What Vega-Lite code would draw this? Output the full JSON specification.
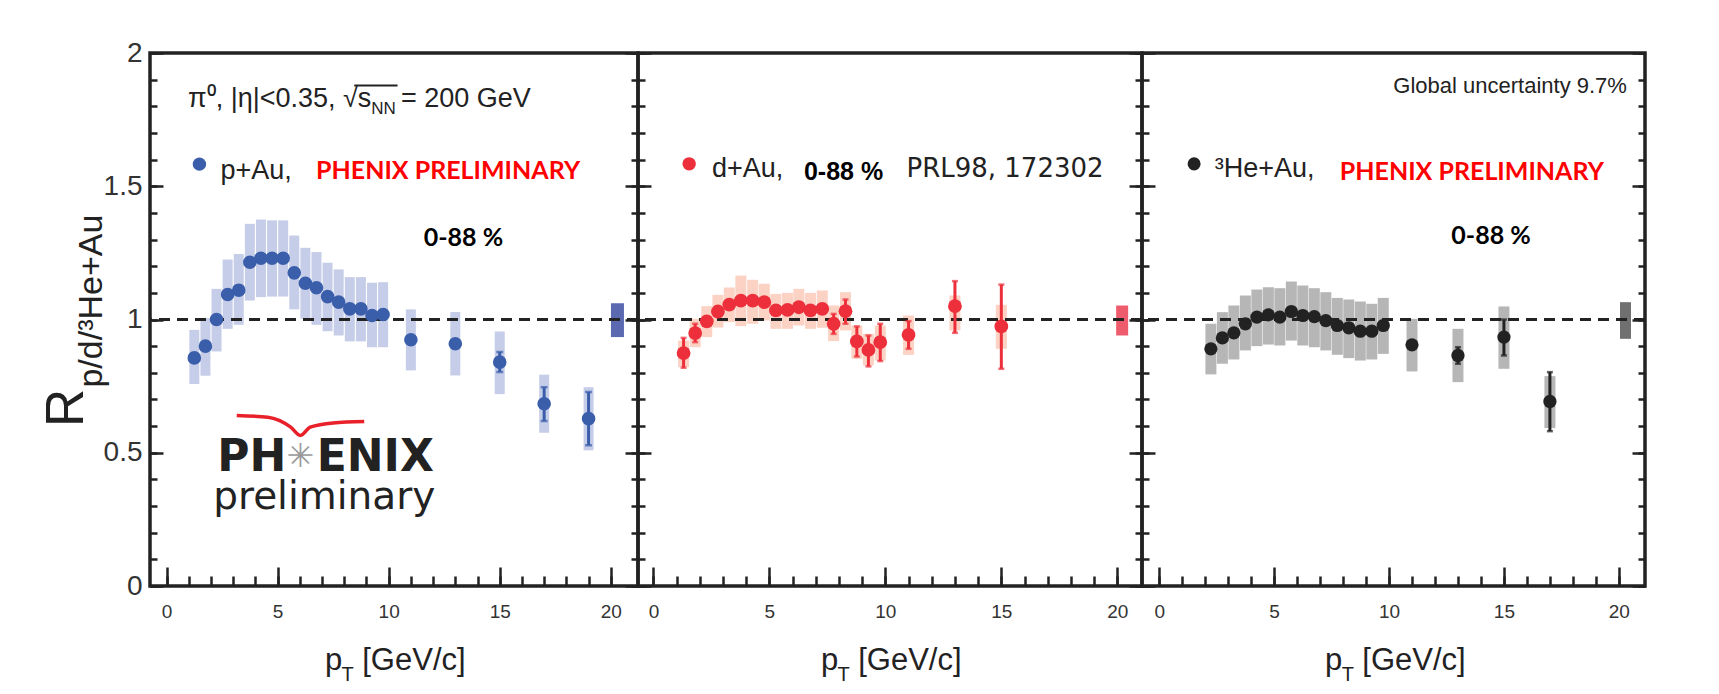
{
"$schema": "https://vega.github.io/schema/vega-lite/v6.json",
"background": "white",
"padding": {"left": 39, "top": 37, "right": 5, "bottom": 0},
"spacing": 0,
"bounds": "flush",
"config": {
  "view": {"stroke": "#222222", "strokeWidth": 3.5},
  "axis": {"domain": false, "grid": false, "tickColor": "#222222", "tickWidth": 2.5, "labelFont": "Liberation Sans", "labelColor": "#333333", "labelFlush": false},
  "text": {"font": "Liberation Sans"}
},
"datasets": {
  "one": [{"k": 1}],
  "pAu": [
    {"pt":1.25,"r":0.856,"sysLo":0.758,"sysHi":0.961},
    {"pt":1.75,"r":0.90,"sysLo":0.789,"sysHi":1.005},
    {"pt":2.25,"r":1.0,"sysLo":0.88,"sysHi":1.115},
    {"pt":2.75,"r":1.094,"sysLo":0.965,"sysHi":1.225},
    {"pt":3.25,"r":1.11,"sysLo":0.98,"sysHi":1.246},
    {"pt":3.75,"r":1.215,"sysLo":1.071,"sysHi":1.359},
    {"pt":4.25,"r":1.23,"sysLo":1.084,"sysHi":1.375},
    {"pt":4.75,"r":1.23,"sysLo":1.086,"sysHi":1.372},
    {"pt":5.25,"r":1.23,"sysLo":1.086,"sysHi":1.372},
    {"pt":5.75,"r":1.175,"sysLo":1.038,"sysHi":1.315},
    {"pt":6.25,"r":1.136,"sysLo":1.003,"sysHi":1.269},
    {"pt":6.75,"r":1.119,"sysLo":0.98,"sysHi":1.253},
    {"pt":7.25,"r":1.086,"sysLo":0.956,"sysHi":1.213},
    {"pt":7.75,"r":1.065,"sysLo":0.94,"sysHi":1.188},
    {"pt":8.25,"r":1.04,"sysLo":0.918,"sysHi":1.159},
    {"pt":8.75,"r":1.04,"sysLo":0.918,"sysHi":1.159},
    {"pt":9.25,"r":1.015,"sysLo":0.896,"sysHi":1.138},
    {"pt":9.75,"r":1.019,"sysLo":0.896,"sysHi":1.14},
    {"pt":11,"r":0.924,"sysLo":0.809,"sysHi":1.038},
    {"pt":13,"r":0.909,"sysLo":0.79,"sysHi":1.028},
    {"pt":15,"r":0.84,"sysLo":0.72,"sysHi":0.955,"statLo":0.803,"statHi":0.878},
    {"pt":17,"r":0.684,"sysLo":0.575,"sysHi":0.793,"statLo":0.619,"statHi":0.746},
    {"pt":19,"r":0.628,"sysLo":0.509,"sysHi":0.746,"statLo":0.528,"statHi":0.728}
  ],
  "dAu": [
    {"pt":1.3,"r":0.874,"sysLo":0.821,"sysHi":0.921,"statLo":0.819,"statHi":0.931},
    {"pt":1.8,"r":0.949,"sysLo":0.896,"sysHi":1.0025,"statLo":0.915,"statHi":0.984},
    {"pt":2.3,"r":0.993,"sysLo":0.934,"sysHi":1.05},
    {"pt":2.78,"r":1.03,"sysLo":0.97,"sysHi":1.0925},
    {"pt":3.27,"r":1.056,"sysLo":0.99,"sysHi":1.12},
    {"pt":3.77,"r":1.071,"sysLo":0.975,"sysHi":1.165},
    {"pt":4.28,"r":1.071,"sysLo":0.984,"sysHi":1.149},
    {"pt":4.78,"r":1.065,"sysLo":0.996,"sysHi":1.134},
    {"pt":5.28,"r":1.034,"sysLo":0.965,"sysHi":1.096},
    {"pt":5.78,"r":1.036,"sysLo":0.965,"sysHi":1.1},
    {"pt":6.27,"r":1.046,"sysLo":0.9775,"sysHi":1.115},
    {"pt":6.77,"r":1.034,"sysLo":0.965,"sysHi":1.1},
    {"pt":7.28,"r":1.04,"sysLo":0.969,"sysHi":1.109},
    {"pt":7.77,"r":0.984,"sysLo":0.919,"sysHi":1.0525,"statLo":0.946,"statHi":1.021},
    {"pt":8.28,"r":1.031,"sysLo":0.959,"sysHi":1.1025,"statLo":0.984,"statHi":1.075},
    {"pt":8.77,"r":0.9175,"sysLo":0.8525,"sysHi":0.9775,"statLo":0.861,"statHi":0.974},
    {"pt":9.27,"r":0.886,"sysLo":0.8275,"sysHi":0.946,"statLo":0.824,"statHi":0.94},
    {"pt":9.78,"r":0.915,"sysLo":0.846,"sysHi":0.9775,"statLo":0.844,"statHi":0.984},
    {"pt":11,"r":0.9425,"sysLo":0.8675,"sysHi":1.015,"statLo":0.89,"statHi":0.994},
    {"pt":13,"r":1.05,"sysLo":0.959,"sysHi":1.09,"statLo":0.95,"statHi":1.144},
    {"pt":15,"r":0.974,"sysLo":0.89,"sysHi":1.055,"statLo":0.815,"statHi":1.131}
  ],
  "HeAu": [
    {"pt":2.25,"r":0.89,"sysLo":0.794,"sysHi":0.984},
    {"pt":2.75,"r":0.931,"sysLo":0.834,"sysHi":1.0275},
    {"pt":3.25,"r":0.95,"sysLo":0.85,"sysHi":1.0525},
    {"pt":3.75,"r":0.984,"sysLo":0.884,"sysHi":1.09},
    {"pt":4.25,"r":1.009,"sysLo":0.9,"sysHi":1.1125},
    {"pt":4.75,"r":1.0175,"sysLo":0.906,"sysHi":1.121},
    {"pt":5.25,"r":1.009,"sysLo":0.9025,"sysHi":1.1175},
    {"pt":5.75,"r":1.03,"sysLo":0.921,"sysHi":1.1425},
    {"pt":6.25,"r":1.015,"sysLo":0.9025,"sysHi":1.1275},
    {"pt":6.75,"r":1.011,"sysLo":0.896,"sysHi":1.1175},
    {"pt":7.25,"r":0.996,"sysLo":0.884,"sysHi":1.1025},
    {"pt":7.75,"r":0.9775,"sysLo":0.8675,"sysHi":1.081},
    {"pt":8.25,"r":0.969,"sysLo":0.855,"sysHi":1.075},
    {"pt":8.75,"r":0.956,"sysLo":0.846,"sysHi":1.0675},
    {"pt":9.25,"r":0.956,"sysLo":0.85,"sysHi":1.059},
    {"pt":9.75,"r":0.9775,"sysLo":0.871,"sysHi":1.081},
    {"pt":11,"r":0.905,"sysLo":0.805,"sysHi":1.0025},
    {"pt":13,"r":0.865,"sysLo":0.765,"sysHi":0.965,"statLo":0.834,"statHi":0.896},
    {"pt":15,"r":0.934,"sysLo":0.815,"sysHi":1.049,"statLo":0.865,"statHi":1.0},
    {"pt":17,"r":0.6925,"sysLo":0.5925,"sysHi":0.7875,"statLo":0.581,"statHi":0.8025}
  ],
  "global": [
    {"panel":"p","pt":20.3,"lo":0.934,"hi":1.061},
    {"panel":"d","pt":20.21,"lo":0.94,"hi":1.0525},
    {"panel":"He","pt":20.29,"lo":0.9275,"hi":1.065}
  ],
  "logo": [
    {"pt":3.16,"r":0.640},{"pt":4.56,"r":0.633},{"pt":5.59,"r":0.596},{"pt":6.03,"r":0.565},{"pt":6.47,"r":0.596},{"pt":7.5,"r":0.612},{"pt":8.9,"r":0.617}
  ]
},
"hconcat": [
{
  "width": 488, "height": 533,
  "resolve": {"axis": {"x": "independent", "y": "independent"}},
  "layer": [
    {"data": {"name": "pAu"}, "mark": {"type": "bar", "width": 10, "color": "#c6cde8"},
     "encoding": {
       "x": {"field": "pt", "type": "quantitative", "scale": {"domain": [-0.52, 21.0], "nice": false, "zero": false}, "axis": {"orient": "bottom", "values": [0,1,2,3,4,5,6,7,8,9,10,11,12,13,14,15,16,17,18,19,20], "tickSize": 10, "offset": -10, "labels": false, "title": null}},
       "y": {"field": "sysLo", "type": "quantitative", "scale": {"domain": [0, 2], "nice": false, "zero": false}, "axis": {"orient": "left", "values": [0,0.1,0.2,0.3,0.4,0.5,0.6,0.7,0.8,0.9,1,1.1,1.2,1.3,1.4,1.5,1.6,1.7,1.8,1.9,2], "tickSize": 7, "offset": -7, "labels": false, "title": null}},
       "y2": {"field": "sysHi"}}},
    {"data": {"name": "global"}, "transform": [{"filter": "datum.panel === 'p'"}], "mark": {"type": "bar", "width": 13, "color": "#5b69b1"},
     "encoding": {
       "x": {"field": "pt", "type": "quantitative", "scale": {"domain": [-0.52, 21.0], "nice": false, "zero": false}, "axis": {"orient": "bottom", "values": [0,5,10,15,20], "tickSize": 19, "offset": -19, "labels": false, "title": null}},
       "y": {"field": "lo", "type": "quantitative", "scale": {"domain": [0, 2], "nice": false, "zero": false}, "axis": {"orient": "left", "values": [0,0.5,1,1.5,2], "tickSize": 13, "offset": -13, "labels": false, "title": null}},
       "y2": {"field": "hi"}}},
    {"data": {"name": "one"}, "mark": {"type": "rule", "strokeDash": [11, 7], "strokeWidth": 3, "color": "#222222"},
     "encoding": {
       "y": {"datum": 1, "type": "quantitative", "scale": {"domain": [0, 2], "nice": false, "zero": false}, "axis": {"orient": "left", "values": [0,0.5,1,1.5,2], "ticks": false, "labelPadding": 8, "labelFontSize": 28, "labelExpr": "toString(datum.value)", "title": null}}}},
    {"data": {"name": "pAu"}, "transform": [{"filter": "isValid(datum.statLo)"}], "mark": {"type": "rule", "strokeWidth": 3, "color": "#3b5eab"},
     "encoding": {
       "x": {"field": "pt", "type": "quantitative", "scale": {"domain": [-0.52, 21.0], "nice": false, "zero": false}, "axis": {"orient": "bottom", "values": [0,5,10,15,20], "ticks": false, "labelPadding": 16, "labelFontSize": 19, "title": null}},
       "y": {"field": "statLo", "type": "quantitative", "scale": {"domain": [0, 2], "nice": false, "zero": false}, "axis": {"orient": "right", "values": [0,0.1,0.2,0.3,0.4,0.5,0.6,0.7,0.8,0.9,1,1.1,1.2,1.3,1.4,1.5,1.6,1.7,1.8,1.9,2], "tickSize": 7, "offset": -7, "labels": false, "title": null}},
       "y2": {"field": "statHi"}}},
    {"data": {"name": "pAu"}, "transform": [{"filter": "isValid(datum.statLo)"}], "mark": {"type": "tick", "orient": "horizontal", "size": 7, "thickness": 2.5, "color": "#3b5eab"},
     "encoding": {
       "x": {"field": "pt", "type": "quantitative", "scale": {"domain": [-0.52, 21.0], "nice": false, "zero": false}, "axis": null},
       "y": {"field": "statLo", "type": "quantitative", "scale": {"domain": [0, 2], "nice": false, "zero": false}, "axis": {"orient": "right", "values": [0,0.5,1,1.5,2], "tickSize": 13, "offset": -13, "labels": false, "title": null}}}},
    {"data": {"name": "pAu"}, "transform": [{"filter": "isValid(datum.statLo)"}], "mark": {"type": "tick", "orient": "horizontal", "size": 7, "thickness": 2.5, "color": "#3b5eab"},
     "encoding": {
       "x": {"field": "pt", "type": "quantitative", "scale": {"domain": [-0.52, 21.0], "nice": false, "zero": false}, "axis": null},
       "y": {"field": "statHi", "type": "quantitative", "scale": {"domain": [0, 2], "nice": false, "zero": false}, "axis": null}}},
    {"data": {"name": "pAu"}, "mark": {"type": "point", "filled": true, "size": 185, "opacity": 1, "color": "#3b5eab"},
     "encoding": {
       "x": {"field": "pt", "type": "quantitative", "scale": {"domain": [-0.52, 21.0], "nice": false, "zero": false}, "axis": null},
       "y": {"field": "r", "type": "quantitative", "scale": {"domain": [0, 2], "nice": false, "zero": false}, "axis": null}}},
    {"data": {"name": "logo"}, "mark": {"type": "line", "interpolate": "monotone", "strokeWidth": 3.5, "color": "#e8202a"},
     "encoding": {
       "x": {"field": "pt", "type": "quantitative", "axis": null},
       "y": {"field": "r", "type": "quantitative", "axis": null}}},
    {"data": {"name": "one"}, "mark": {"type": "point", "filled": true, "size": 180, "opacity": 1, "color": "#3b5eab"},
     "encoding": {"x": {"datum": 1.48, "type": "quantitative", "axis": null}, "y": {"datum": 1.583, "type": "quantitative", "axis": null}}},
    {"data": {"name": "one"}, "mark": {"type": "text", "text": "π⁰, |η|<0.35,", "align": "left", "baseline": "alphabetic", "fontSize": 27, "color": "#222222"},
     "encoding": {"x": {"datum": 0.97, "type": "quantitative", "axis": null}, "y": {"datum": 1.796, "type": "quantitative", "axis": null}}},
    {"data": {"name": "one"}, "mark": {"type": "text", "text": "√s", "align": "left", "baseline": "alphabetic", "fontSize": 27, "color": "#222222"},
     "encoding": {"x": {"datum": 7.94, "type": "quantitative", "axis": null}, "y": {"datum": 1.796, "type": "quantitative", "axis": null}}},
    {"data": {"name": "one"}, "mark": {"type": "text", "text": "NN", "align": "left", "baseline": "alphabetic", "fontSize": 17, "color": "#222222"},
     "encoding": {"x": {"datum": 9.22, "type": "quantitative", "axis": null}, "y": {"datum": 1.771, "type": "quantitative", "axis": null}}},
    {"data": {"name": "one"}, "mark": {"type": "rule", "strokeWidth": 2, "color": "#222222"},
     "encoding": {"x": {"datum": 8.45, "type": "quantitative", "axis": null}, "x2": {"datum": 10.4}, "y": {"datum": 1.878, "type": "quantitative", "axis": null}}},
    {"data": {"name": "one"}, "mark": {"type": "text", "text": "= 200 GeV", "align": "left", "baseline": "alphabetic", "fontSize": 27, "color": "#222222"},
     "encoding": {"x": {"datum": 10.55, "type": "quantitative", "axis": null}, "y": {"datum": 1.796, "type": "quantitative", "axis": null}}},
    {"data": {"name": "one"}, "mark": {"type": "text", "text": "p+Au,", "align": "left", "baseline": "alphabetic", "fontSize": 27, "color": "#222222"},
     "encoding": {"x": {"datum": 2.43, "type": "quantitative", "axis": null}, "y": {"datum": 1.527, "type": "quantitative", "axis": null}}},
    {"data": {"name": "one"}, "mark": {"type": "text", "text": "PHENIX PRELIMINARY", "align": "left", "baseline": "alphabetic", "font": "Lato", "fontWeight": "bold", "fontSize": 25, "color": "#ff0000"},
     "encoding": {"x": {"datum": 6.73, "type": "quantitative", "axis": null}, "y": {"datum": 1.527, "type": "quantitative", "axis": null}}},
    {"data": {"name": "one"}, "mark": {"type": "text", "text": "0-88 %", "align": "left", "baseline": "alphabetic", "font": "Lato", "fontWeight": "bold", "fontSize": 25, "color": "#000000"},
     "encoding": {"x": {"datum": 11.58, "type": "quantitative", "axis": null}, "y": {"datum": 1.274, "type": "quantitative", "axis": null}}},
    {"data": {"name": "one"}, "mark": {"type": "text", "text": "PH", "align": "left", "baseline": "alphabetic", "font": "DejaVu Sans", "fontWeight": "bold", "fontSize": 44, "color": "#222222"},
     "encoding": {"x": {"datum": 2.28, "type": "quantitative", "axis": null}, "y": {"datum": 0.431, "type": "quantitative", "axis": null}}},
    {"data": {"name": "one"}, "mark": {"type": "text", "text": "✳", "align": "center", "baseline": "middle", "font": "DejaVu Sans", "fontSize": 33, "color": "#9a9a9a"},
     "encoding": {"x": {"datum": 6.02, "type": "quantitative", "axis": null}, "y": {"datum": 0.485, "type": "quantitative", "axis": null}}},
    {"data": {"name": "one"}, "mark": {"type": "text", "text": "ENIX", "align": "left", "baseline": "alphabetic", "font": "DejaVu Sans", "fontWeight": "bold", "fontSize": 44, "color": "#222222"},
     "encoding": {"x": {"datum": 6.76, "type": "quantitative", "axis": null}, "y": {"datum": 0.431, "type": "quantitative", "axis": null}}},
    {"data": {"name": "one"}, "mark": {"type": "text", "text": "preliminary", "align": "left", "baseline": "alphabetic", "font": "DejaVu Sans", "fontSize": 39, "color": "#222222"},
     "encoding": {"x": {"datum": 2.1, "type": "quantitative", "axis": null}, "y": {"datum": 0.29, "type": "quantitative", "axis": null}}},
    {"data": {"name": "one"}, "mark": {"type": "text", "text": "R", "angle": 270, "align": "center", "baseline": "alphabetic", "fontSize": 53, "color": "#222222"},
     "encoding": {"x": {"datum": -3.76, "type": "quantitative", "axis": null}, "y": {"datum": 0.668, "type": "quantitative", "axis": null}}},
    {"data": {"name": "one"}, "mark": {"type": "text", "text": "p/d/³He+Au", "angle": 270, "align": "center", "baseline": "alphabetic", "fontSize": 34, "color": "#222222"},
     "encoding": {"x": {"datum": -2.89, "type": "quantitative", "axis": null}, "y": {"datum": 1.069, "type": "quantitative", "axis": null}}},
    {"data": {"name": "one"}, "mark": {"type": "text", "text": "p", "align": "left", "baseline": "alphabetic", "fontSize": 31, "color": "#222222"},
     "encoding": {"x": {"datum": 7.13, "type": "quantitative", "axis": null}, "y": {"datum": -0.315, "type": "quantitative", "axis": null}}},
    {"data": {"name": "one"}, "mark": {"type": "text", "text": "T", "align": "left", "baseline": "alphabetic", "fontSize": 20, "color": "#222222"},
     "encoding": {"x": {"datum": 7.88, "type": "quantitative", "axis": null}, "y": {"datum": -0.356, "type": "quantitative", "axis": null}}},
    {"data": {"name": "one"}, "mark": {"type": "text", "text": "[GeV/c]", "align": "left", "baseline": "alphabetic", "fontSize": 31, "color": "#222222"},
     "encoding": {"x": {"datum": 8.81, "type": "quantitative", "axis": null}, "y": {"datum": -0.315, "type": "quantitative", "axis": null}}}
  ]
},
{
  "width": 504, "height": 533,
  "resolve": {"axis": {"x": "independent", "y": "independent"}},
  "layer": [
    {"data": {"name": "dAu"}, "mark": {"type": "bar", "width": 11, "color": "#fbd2c3"},
     "encoding": {
       "x": {"field": "pt", "type": "quantitative", "scale": {"domain": [-0.45, 20.85], "nice": false, "zero": false}, "axis": {"orient": "bottom", "values": [0,1,2,3,4,5,6,7,8,9,10,11,12,13,14,15,16,17,18,19,20], "tickSize": 10, "offset": -10, "labels": false, "title": null}},
       "y": {"field": "sysLo", "type": "quantitative", "scale": {"domain": [0, 2], "nice": false, "zero": false}, "axis": {"orient": "left", "values": [0,0.1,0.2,0.3,0.4,0.5,0.6,0.7,0.8,0.9,1,1.1,1.2,1.3,1.4,1.5,1.6,1.7,1.8,1.9,2], "tickSize": 7, "offset": -7, "labels": false, "title": null}},
       "y2": {"field": "sysHi"}}},
    {"data": {"name": "global"}, "transform": [{"filter": "datum.panel === 'd'"}], "mark": {"type": "bar", "width": 12, "color": "#ee5b6d"},
     "encoding": {
       "x": {"field": "pt", "type": "quantitative", "scale": {"domain": [-0.45, 20.85], "nice": false, "zero": false}, "axis": {"orient": "bottom", "values": [0,5,10,15,20], "tickSize": 19, "offset": -19, "labels": false, "title": null}},
       "y": {"field": "lo", "type": "quantitative", "scale": {"domain": [0, 2], "nice": false, "zero": false}, "axis": {"orient": "left", "values": [0,0.5,1,1.5,2], "tickSize": 13, "offset": -13, "labels": false, "title": null}},
       "y2": {"field": "hi"}}},
    {"data": {"name": "one"}, "mark": {"type": "rule", "strokeDash": [11, 7], "strokeWidth": 3, "color": "#222222"},
     "encoding": {"y": {"datum": 1, "type": "quantitative", "scale": {"domain": [0, 2], "nice": false, "zero": false}, "axis": null}}},
    {"data": {"name": "dAu"}, "transform": [{"filter": "isValid(datum.statLo)"}], "mark": {"type": "rule", "strokeWidth": 3, "color": "#ec2f3b"},
     "encoding": {
       "x": {"field": "pt", "type": "quantitative", "scale": {"domain": [-0.45, 20.85], "nice": false, "zero": false}, "axis": {"orient": "bottom", "values": [0,5,10,15,20], "ticks": false, "labelPadding": 16, "labelFontSize": 19, "title": null}},
       "y": {"field": "statLo", "type": "quantitative", "scale": {"domain": [0, 2], "nice": false, "zero": false}, "axis": {"orient": "right", "values": [0,0.1,0.2,0.3,0.4,0.5,0.6,0.7,0.8,0.9,1,1.1,1.2,1.3,1.4,1.5,1.6,1.7,1.8,1.9,2], "tickSize": 7, "offset": -7, "labels": false, "title": null}},
       "y2": {"field": "statHi"}}},
    {"data": {"name": "dAu"}, "transform": [{"filter": "isValid(datum.statLo)"}], "mark": {"type": "tick", "orient": "horizontal", "size": 6, "thickness": 2.5, "color": "#ec2f3b"},
     "encoding": {
       "x": {"field": "pt", "type": "quantitative", "scale": {"domain": [-0.45, 20.85], "nice": false, "zero": false}, "axis": null},
       "y": {"field": "statLo", "type": "quantitative", "scale": {"domain": [0, 2], "nice": false, "zero": false}, "axis": {"orient": "right", "values": [0,0.5,1,1.5,2], "tickSize": 13, "offset": -13, "labels": false, "title": null}}}},
    {"data": {"name": "dAu"}, "transform": [{"filter": "isValid(datum.statLo)"}], "mark": {"type": "tick", "orient": "horizontal", "size": 6, "thickness": 2.5, "color": "#ec2f3b"},
     "encoding": {
       "x": {"field": "pt", "type": "quantitative", "scale": {"domain": [-0.45, 20.85], "nice": false, "zero": false}, "axis": null},
       "y": {"field": "statHi", "type": "quantitative", "scale": {"domain": [0, 2], "nice": false, "zero": false}, "axis": null}}},
    {"data": {"name": "dAu"}, "mark": {"type": "point", "filled": true, "size": 190, "opacity": 1, "color": "#ec2f3b"},
     "encoding": {
       "x": {"field": "pt", "type": "quantitative", "scale": {"domain": [-0.45, 20.85], "nice": false, "zero": false}, "axis": null},
       "y": {"field": "r", "type": "quantitative", "scale": {"domain": [0, 2], "nice": false, "zero": false}, "axis": null}}},
    {"data": {"name": "one"}, "mark": {"type": "point", "filled": true, "size": 180, "opacity": 1, "color": "#ec2f3b"},
     "encoding": {"x": {"datum": 1.54, "type": "quantitative", "axis": null}, "y": {"datum": 1.584, "type": "quantitative", "axis": null}}},
    {"data": {"name": "one"}, "mark": {"type": "text", "text": "d+Au,", "align": "left", "baseline": "alphabetic", "fontSize": 27, "color": "#222222"},
     "encoding": {"x": {"datum": 2.52, "type": "quantitative", "axis": null}, "y": {"datum": 1.533, "type": "quantitative", "axis": null}}},
    {"data": {"name": "one"}, "mark": {"type": "text", "text": "0-88 %", "align": "left", "baseline": "alphabetic", "fontWeight": "bold", "fontSize": 25, "color": "#000000"},
     "encoding": {"x": {"datum": 6.49, "type": "quantitative", "axis": null}, "y": {"datum": 1.525, "type": "quantitative", "axis": null}}},
    {"data": {"name": "one"}, "mark": {"type": "text", "text": "PRL98, 172302", "align": "left", "baseline": "alphabetic", "font": "DejaVu Sans", "fontSize": 26, "color": "#222222"},
     "encoding": {"x": {"datum": 10.91, "type": "quantitative", "axis": null}, "y": {"datum": 1.533, "type": "quantitative", "axis": null}}},
    {"data": {"name": "one"}, "mark": {"type": "text", "text": "p", "align": "left", "baseline": "alphabetic", "fontSize": 31, "color": "#222222"},
     "encoding": {"x": {"datum": 7.22, "type": "quantitative", "axis": null}, "y": {"datum": -0.315, "type": "quantitative", "axis": null}}},
    {"data": {"name": "one"}, "mark": {"type": "text", "text": "T", "align": "left", "baseline": "alphabetic", "fontSize": 20, "color": "#222222"},
     "encoding": {"x": {"datum": 7.94, "type": "quantitative", "axis": null}, "y": {"datum": -0.356, "type": "quantitative", "axis": null}}},
    {"data": {"name": "one"}, "mark": {"type": "text", "text": "[GeV/c]", "align": "left", "baseline": "alphabetic", "fontSize": 31, "color": "#222222"},
     "encoding": {"x": {"datum": 8.83, "type": "quantitative", "axis": null}, "y": {"datum": -0.315, "type": "quantitative", "axis": null}}}
  ]
},
{
  "width": 503, "height": 533,
  "resolve": {"axis": {"x": "independent", "y": "independent"}},
  "layer": [
    {"data": {"name": "HeAu"}, "mark": {"type": "bar", "width": 11, "color": "#b6b6b6"},
     "encoding": {
       "x": {"field": "pt", "type": "quantitative", "scale": {"domain": [-0.53, 20.92], "nice": false, "zero": false}, "axis": {"orient": "bottom", "values": [0,1,2,3,4,5,6,7,8,9,10,11,12,13,14,15,16,17,18,19,20], "tickSize": 10, "offset": -10, "labels": false, "title": null}},
       "y": {"field": "sysLo", "type": "quantitative", "scale": {"domain": [0, 2], "nice": false, "zero": false}, "axis": {"orient": "left", "values": [0,0.1,0.2,0.3,0.4,0.5,0.6,0.7,0.8,0.9,1,1.1,1.2,1.3,1.4,1.5,1.6,1.7,1.8,1.9,2], "tickSize": 7, "offset": -7, "labels": false, "title": null}},
       "y2": {"field": "sysHi"}}},
    {"data": {"name": "global"}, "transform": [{"filter": "datum.panel === 'He'"}], "mark": {"type": "bar", "width": 11, "color": "#707070"},
     "encoding": {
       "x": {"field": "pt", "type": "quantitative", "scale": {"domain": [-0.53, 20.92], "nice": false, "zero": false}, "axis": {"orient": "bottom", "values": [0,5,10,15,20], "tickSize": 19, "offset": -19, "labels": false, "title": null}},
       "y": {"field": "lo", "type": "quantitative", "scale": {"domain": [0, 2], "nice": false, "zero": false}, "axis": {"orient": "left", "values": [0,0.5,1,1.5,2], "tickSize": 13, "offset": -13, "labels": false, "title": null}},
       "y2": {"field": "hi"}}},
    {"data": {"name": "one"}, "mark": {"type": "rule", "strokeDash": [11, 7], "strokeWidth": 3, "color": "#222222"},
     "encoding": {"y": {"datum": 1, "type": "quantitative", "scale": {"domain": [0, 2], "nice": false, "zero": false}, "axis": null}}},
    {"data": {"name": "HeAu"}, "transform": [{"filter": "isValid(datum.statLo)"}], "mark": {"type": "rule", "strokeWidth": 3, "color": "#222222"},
     "encoding": {
       "x": {"field": "pt", "type": "quantitative", "scale": {"domain": [-0.53, 20.92], "nice": false, "zero": false}, "axis": {"orient": "bottom", "values": [0,5,10,15,20], "ticks": false, "labelPadding": 16, "labelFontSize": 19, "title": null}},
       "y": {"field": "statLo", "type": "quantitative", "scale": {"domain": [0, 2], "nice": false, "zero": false}, "axis": {"orient": "right", "values": [0,0.1,0.2,0.3,0.4,0.5,0.6,0.7,0.8,0.9,1,1.1,1.2,1.3,1.4,1.5,1.6,1.7,1.8,1.9,2], "tickSize": 7, "offset": -7, "labels": false, "title": null}},
       "y2": {"field": "statHi"}}},
    {"data": {"name": "HeAu"}, "transform": [{"filter": "isValid(datum.statLo)"}], "mark": {"type": "tick", "orient": "horizontal", "size": 6, "thickness": 2.5, "color": "#222222"},
     "encoding": {
       "x": {"field": "pt", "type": "quantitative", "scale": {"domain": [-0.53, 20.92], "nice": false, "zero": false}, "axis": null},
       "y": {"field": "statLo", "type": "quantitative", "scale": {"domain": [0, 2], "nice": false, "zero": false}, "axis": {"orient": "right", "values": [0,0.5,1,1.5,2], "tickSize": 13, "offset": -13, "labels": false, "title": null}}}},
    {"data": {"name": "HeAu"}, "transform": [{"filter": "isValid(datum.statLo)"}], "mark": {"type": "tick", "orient": "horizontal", "size": 6, "thickness": 2.5, "color": "#222222"},
     "encoding": {
       "x": {"field": "pt", "type": "quantitative", "scale": {"domain": [-0.53, 20.92], "nice": false, "zero": false}, "axis": null},
       "y": {"field": "statHi", "type": "quantitative", "scale": {"domain": [0, 2], "nice": false, "zero": false}, "axis": null}}},
    {"data": {"name": "HeAu"}, "mark": {"type": "point", "filled": true, "size": 175, "opacity": 1, "color": "#222222"},
     "encoding": {
       "x": {"field": "pt", "type": "quantitative", "scale": {"domain": [-0.53, 20.92], "nice": false, "zero": false}, "axis": null},
       "y": {"field": "r", "type": "quantitative", "scale": {"domain": [0, 2], "nice": false, "zero": false}, "axis": null}}},
    {"data": {"name": "one"}, "mark": {"type": "point", "filled": true, "size": 170, "opacity": 1, "color": "#222222"},
     "encoding": {"x": {"datum": 1.52, "type": "quantitative", "axis": null}, "y": {"datum": 1.584, "type": "quantitative", "axis": null}}},
    {"data": {"name": "one"}, "mark": {"type": "text", "text": "Global uncertainty 9.7%", "align": "right", "baseline": "alphabetic", "fontSize": 22, "color": "#222222"},
     "encoding": {"x": {"datum": 20.35, "type": "quantitative", "axis": null}, "y": {"datum": 1.85, "type": "quantitative", "axis": null}}},
    {"data": {"name": "one"}, "mark": {"type": "text", "text": "³He+Au,", "align": "left", "baseline": "alphabetic", "fontSize": 27, "color": "#222222"},
     "encoding": {"x": {"datum": 2.42, "type": "quantitative", "axis": null}, "y": {"datum": 1.533, "type": "quantitative", "axis": null}}},
    {"data": {"name": "one"}, "mark": {"type": "text", "text": "PHENIX PRELIMINARY", "align": "left", "baseline": "alphabetic", "font": "Lato", "fontWeight": "bold", "fontSize": 25, "color": "#ff0000"},
     "encoding": {"x": {"datum": 7.86, "type": "quantitative", "axis": null}, "y": {"datum": 1.522, "type": "quantitative", "axis": null}}},
    {"data": {"name": "one"}, "mark": {"type": "text", "text": "0-88 %", "align": "left", "baseline": "alphabetic", "font": "Lato", "fontWeight": "bold", "fontSize": 25, "color": "#000000"},
     "encoding": {"x": {"datum": 12.71, "type": "quantitative", "axis": null}, "y": {"datum": 1.283, "type": "quantitative", "axis": null}}},
    {"data": {"name": "one"}, "mark": {"type": "text", "text": "p", "align": "left", "baseline": "alphabetic", "fontSize": 31, "color": "#222222"},
     "encoding": {"x": {"datum": 7.22, "type": "quantitative", "axis": null}, "y": {"datum": -0.315, "type": "quantitative", "axis": null}}},
    {"data": {"name": "one"}, "mark": {"type": "text", "text": "T", "align": "left", "baseline": "alphabetic", "fontSize": 20, "color": "#222222"},
     "encoding": {"x": {"datum": 7.94, "type": "quantitative", "axis": null}, "y": {"datum": -0.356, "type": "quantitative", "axis": null}}},
    {"data": {"name": "one"}, "mark": {"type": "text", "text": "[GeV/c]", "align": "left", "baseline": "alphabetic", "fontSize": 31, "color": "#222222"},
     "encoding": {"x": {"datum": 8.84, "type": "quantitative", "axis": null}, "y": {"datum": -0.315, "type": "quantitative", "axis": null}}}
  ]
}
]
}
